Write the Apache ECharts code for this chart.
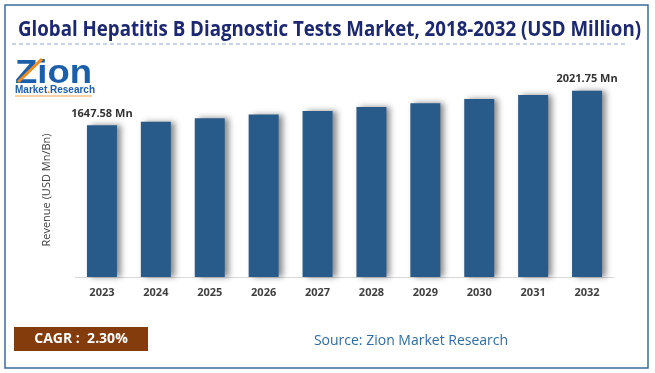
<!DOCTYPE html>
<html><head><meta charset="utf-8">
<script src="https://cdn.jsdelivr.net/npm/echarts@6/dist/echarts.min.js"></script>
<style>html,body{margin:0;padding:0;background:#fff}#c{width:655px;height:373px}</style>
</head><body><div id="c"></div>
<script>
const years = ['2023','2024','2025','2026','2027','2028','2029','2030','2031','2032'];
const revenue = [1647.58, 1685, 1724, 1764, 1804, 1846, 1888, 1932, 1976, 2021.75];
const barLabels = ['1647.58 Mn','','','','','','','','','2021.75 Mn'];
const titleText = 'Global Hepatitis B Diagnostic Tests Market, 2018-2032 (USD Million)';
const yAxisName = 'Revenue (USD Mn/Bn)';
const cagrText = 'CAGR :  2.30%';
const sourceText = 'Source: Zion Market Research';

const F2 = '"Open Sans", "Noto Sans", sans-serif';
const titleFont = 'bold 21px ' + F2;
const mc = document.createElement('canvas').getContext('2d');
mc.font = titleFont;
const titleScale = 623 / mc.measureText(titleText).width;
const logoFont = 'bold 33px "Liberation Sans", Arial, sans-serif';
mc.font = logoFont;
const logoScale = 77 / mc.measureText('Zion').width;

const chart = echarts.init(document.getElementById('c'), null, {renderer:'canvas'});
chart.setOption({
  animation:false,
  backgroundColor:'#ffffff',
  grid:{left:75, right:41, top:56, bottom:96},
  xAxis:{type:'category', data:years,
    axisLine:{show:true, lineStyle:{color:'#d9d9d9', width:1}},
    axisTick:{show:false},
    axisLabel:{color:'#404040', fontWeight:'bold', fontSize:11, fontFamily:F2, margin:10}},
  yAxis:{type:'value', min:0, max:2400, show:true,
    axisLine:{show:false}, axisTick:{show:false}, axisLabel:{show:false}, splitLine:{show:false}},
  series:[{type:'bar', data:revenue.map((v,i)=>({value:v, label:{show:!!barLabels[i], formatter:barLabels[i]}})),
    barWidth:30,
    itemStyle:{color:'#285a8a', shadowColor:'rgba(0,0,0,0.45)', shadowBlur:6, shadowOffsetX:4, shadowOffsetY:0},
    label:{position:'top', distance:6, color:'#333333', fontWeight:'bold', fontSize:11, fontFamily:F2}}],
  graphic:[
    {type:'rect', shape:{x:5, y:5, width:643, height:363}, style:{fill:'none', stroke:'#3d6b9c', lineWidth:1.5}, silent:true},
    {type:'text', x:18, y:30, scaleX:titleScale, style:{text:titleText, fill:'#1c2870', font:titleFont, textAlign:'left', textVerticalAlign:'middle'}},
    {type:'line', shape:{x1:12, y1:44, x2:627, y2:44}, style:{stroke:'#8fa8d8', lineWidth:1, lineDash:[4,3]}},
    {type:'text', x:47, y:190, rotation:Math.PI/2, style:{text:yAxisName, fill:'#404040', font:'11px '+F2, textAlign:'center', textVerticalAlign:'middle'}},
    {type:'text', x:15, y:57, scaleX:logoScale, style:{text:'Zion', fill:'#1b5fab', font:logoFont}},
    {type:'line', shape:{x1:18, y1:82, x2:42, y2:59}, style:{stroke:'#f08a1c', lineWidth:3}},
    {type:'text', x:15, y:85, style:{rich:{a:{fill:'#1b5fab', font:'bold 10px "Liberation Sans", Arial, sans-serif'}, b:{fill:'#f08a1c', font:'bold 10px "Liberation Sans", Arial, sans-serif'}}, text:'{a|Market}{b|.}{a|Research}'}},
    {type:'line', shape:{x1:15, y1:96, x2:92, y2:96}, style:{stroke:'#f3a24a', lineWidth:1}},
    {type:'rect', shape:{x:14, y:327, width:134, height:24}, style:{fill:'#843c0c'}},
    {type:'text', x:81, y:339, style:{text:cagrText, fill:'#ffffff', font:'bold 14px '+F2, textAlign:'center', textVerticalAlign:'middle'}},
    {type:'text', x:411, y:341, style:{text:sourceText, fill:'#2e6da4', font:'14px '+F2, textAlign:'center', textVerticalAlign:'middle'}}
  ]
});
</script></body></html>
